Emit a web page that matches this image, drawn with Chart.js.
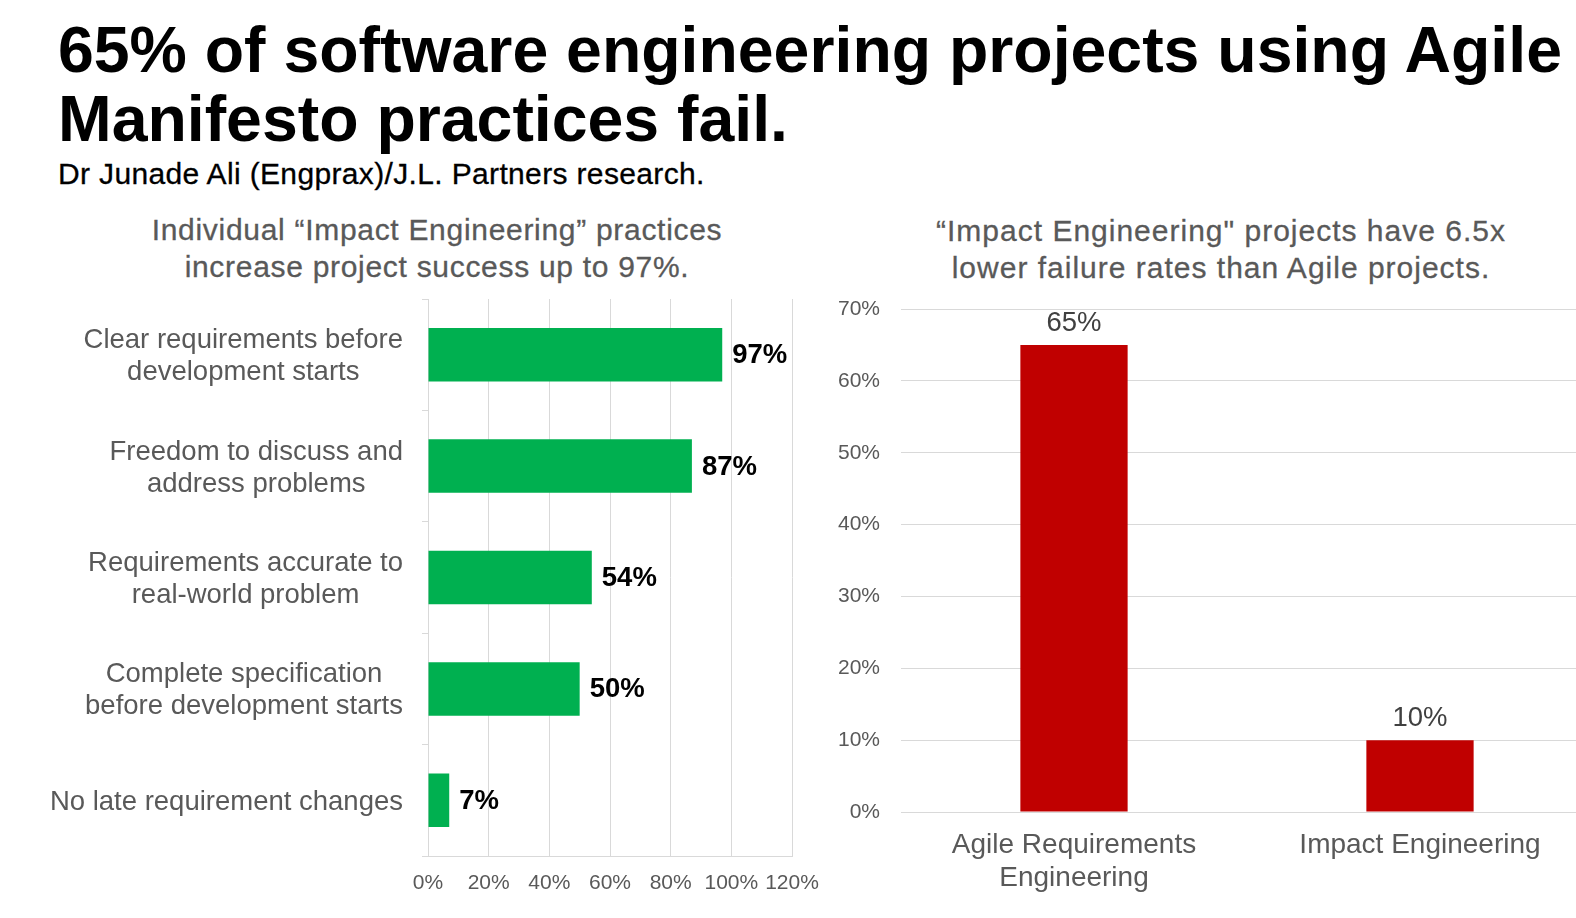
<!DOCTYPE html>
<html>
<head>
<meta charset="utf-8">
<script src="https://cdn.jsdelivr.net/npm/chart.js@4.4.0/dist/chart.umd.min.js"></script>
<style>
  html, body { margin: 0; padding: 0; background: #fff; }
  body { width: 1576px; height: 918px; overflow: hidden; position: relative; font-family: "Liberation Sans", Arial, sans-serif; }
  .title { position: absolute; left: 58px; top: 16px; font-size: 64.4px; line-height: 69px; font-weight: bold; color: #000; white-space: nowrap; }
  .source { position: absolute; left: 58px; top: 159px; font-size: 30px; line-height: 30px; letter-spacing: 0.35px; -webkit-text-stroke: 0.3px #000; color: #000; white-space: nowrap; }
  .sub { position: absolute; width: 700px; text-align: center; font-size: 30px; line-height: 37px; letter-spacing: 0.7px; -webkit-text-stroke: 0.3px #595959; color: #595959; white-space: nowrap; }
  canvas { position: absolute; }
</style>
</head>
<body>
<div class="title">65% of software engineering projects using Agile<br>Manifesto practices fail.</div>
<div class="source">Dr Junade Ali (Engprax)/J.L. Partners research.</div>
<div class="sub" style="left:87px; top:211px;">Individual “Impact Engineering” practices<br>increase project success up to 97%.</div>
<div class="sub" style="left:871px; top:212px; letter-spacing:1px;">“Impact Engineering" projects have 6.5x<br>lower failure rates than Agile projects.</div>

<canvas id="practicesChart" width="834" height="610" style="left:0; top:290px;"></canvas>
<canvas id="failureChart" width="780" height="610" style="left:820px; top:290px;"></canvas>

<script>
// Datos: prácticas individuales (barras horizontales)
var practiceLabels = [
  ['Clear requirements before', 'development starts'],
  ['Freedom to discuss and', 'address problems'],
  ['Requirements accurate to', 'real-world problem'],
  ['Complete specification', 'before development starts'],
  ['No late requirement changes']
];
var practiceValues = [97, 87, 54, 50, 7];

// Datos: tasa de fallo (barras verticales)
var failureLabels = [['Agile Requirements', 'Engineering'], 'Impact Engineering'];
var failureValues = [65, 10];

var FONT = '"Liberation Sans", Arial, sans-serif';
var GRID = '#d9d9d9';
var GREY = '#595959';

// Etiquetas del eje Y centradas por bloque, alineadas a la derecha
var blockLabels = {
  id: 'blockLabels',
  afterDraw: function (chart) {
    var ctx = chart.ctx;
    var yScale = chart.scales.y;
    var right = chart.chartArea.left - 25;
    ctx.save();
    ctx.font = '27.5px ' + FONT;
    ctx.fillStyle = GREY;
    ctx.textAlign = 'center';
    ctx.textBaseline = 'middle';
    practiceLabels.forEach(function (lines, i) {
      var y = yScale.getPixelForValue(i) + 2;
      var w = Math.max.apply(null, lines.map(function (l) { return ctx.measureText(l).width; }));
      var cx = right - w / 2;
      var lh = 32;
      lines.forEach(function (l, j) {
        ctx.fillText(l, cx, y + (j - (lines.length - 1) / 2) * lh);
      });
    });
    ctx.restore();
  }
};

// Valores al final de cada barra
var endValues = {
  id: 'endValues',
  afterDatasetsDraw: function (chart) {
    var ctx = chart.ctx;
    var meta = chart.getDatasetMeta(0);
    ctx.save();
    ctx.font = 'bold 27.5px ' + FONT;
    ctx.fillStyle = '#000';
    ctx.textAlign = 'left';
    ctx.textBaseline = 'middle';
    meta.data.forEach(function (bar, i) {
      ctx.fillText(practiceValues[i] + '%', bar.x + 10, bar.y + 1);
    });
    ctx.restore();
  }
};

// Valores encima de cada columna
var topValues = {
  id: 'topValues',
  afterDatasetsDraw: function (chart) {
    var ctx = chart.ctx;
    var meta = chart.getDatasetMeta(0);
    ctx.save();
    ctx.font = '27.5px ' + FONT;
    ctx.fillStyle = '#404040';
    ctx.textAlign = 'center';
    ctx.textBaseline = 'middle';
    meta.data.forEach(function (bar, i) {
      ctx.fillText(failureValues[i] + '%', bar.x, bar.y - 22);
    });
    ctx.restore();
  }
};

new Chart(document.getElementById('practicesChart').getContext('2d'), {
  type: 'bar',
  data: {
    labels: practiceLabels,
    datasets: [{
      data: practiceValues,
      backgroundColor: '#00b050',
      barPercentage: 0.48,
      categoryPercentage: 1
    }]
  },
  options: {
    indexAxis: 'y',
    responsive: false,
    animation: false,
    layout: { padding: { top: 9, right: 42, left: 0, bottom: 0 } },
    plugins: { legend: { display: false }, tooltip: { enabled: false } },
    scales: {
      x: {
        min: 0,
        max: 120,
        ticks: {
          stepSize: 20,
          padding: 15,
          color: GREY,
          font: { family: FONT, size: 21 },
          callback: function (v) { return v + '%'; }
        },
        grid: { color: GRID, drawTicks: false },
        border: { display: true, color: GRID },
        afterFit: function (s) {
          s.height = 44;
          s.paddingLeft = 0;
          s.paddingRight = 0;
        }
      },
      y: {
        ticks: { display: false },
        grid: { offset: true, drawOnChartArea: false, drawTicks: true, tickLength: 6, color: GRID },
        border: { display: true, color: GRID },
        afterFit: function (s) { s.width = 428; }
      }
    }
  },
  plugins: [blockLabels, endValues]
});

new Chart(document.getElementById('failureChart').getContext('2d'), {
  type: 'bar',
  data: {
    labels: failureLabels,
    datasets: [{
      data: failureValues,
      backgroundColor: '#c00000',
      barPercentage: 0.31,
      categoryPercentage: 1
    }]
  },
  options: {
    responsive: false,
    animation: false,
    layout: { padding: { top: 19, right: 7, left: 0, bottom: 0 } },
    plugins: { legend: { display: false }, tooltip: { enabled: false } },
    scales: {
      x: {
        ticks: {
          padding: 9,
          color: GREY,
          font: { family: FONT, size: 28, lineHeight: '33px' }
        },
        grid: { display: false },
        border: { display: false },
        afterFit: function (s) { s.height = 88; }
      },
      y: {
        min: 0,
        max: 70,
        ticks: {
          stepSize: 10,
          padding: 21,
          color: GREY,
          font: { family: FONT, size: 21 },
          callback: function (v) { return v + '%'; }
        },
        grid: { color: GRID, drawTicks: false },
        border: { display: false },
        afterFit: function (s) {
          s.width = 81;
          s.paddingTop = 0;
          s.paddingBottom = 0;
        }
      }
    }
  },
  plugins: [topValues]
});
</script>
</body>
</html>
